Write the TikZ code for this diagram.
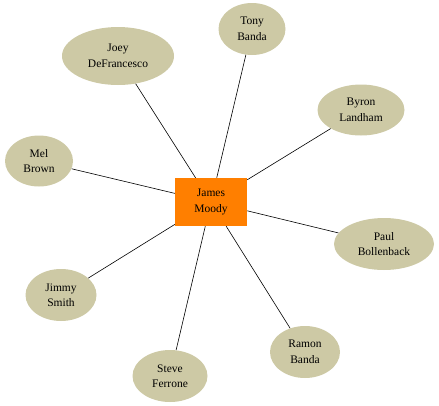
\documentclass[tikz,border=0pt]{standalone}
\usepackage{fontspec}
\setmainfont{Liberation Serif}
\usepackage{tikz}
\usetikzlibrary{shapes.geometric}
\definecolor{JMorange}{RGB}{255,127,0}
\definecolor{JMkhaki}{RGB}{205,201,165}
\tikzset{
  hub/.style={rectangle,fill=JMorange,minimum width=72pt,minimum height=48pt,
              inner sep=0pt,align=center,font=\fontsize{11.5}{15.5}\selectfont},
  player/.style={ellipse,fill=JMkhaki,inner sep=0pt,align=center,
                 font=\fontsize{11.5}{15.5}\selectfont},
  link/.style={line width=0.6pt,draw=black},
}
\begin{document}
\begin{tikzpicture}[x=1pt,y=-1pt]
    \useasboundingbox (0,0) rectangle (439,405);
    \node[hub] (jm) at (211,202) {James\\Moody};
    \node[player,minimum width=112pt,minimum height=58pt] (jd) at (118,56) {Joey\\DeFrancesco};
    \node[player,minimum width=67pt,minimum height=52pt] (tb) at (252,29) {Tony\\Banda};
    \node[player,minimum width=87pt,minimum height=51pt] (bl) at (361,110) {Byron\\Landham};
    \node[player,minimum width=68pt,minimum height=51pt] (mb) at (39,161) {Mel\\Brown};
    \node[player,minimum width=100pt,minimum height=52pt] (pb) at (384,244) {Paul\\Bollenback};
    \node[player,minimum width=71pt,minimum height=52pt] (js) at (61,295) {Jimmy\\Smith};
    \node[player,minimum width=70pt,minimum height=52pt] (rb) at (305,352) {Ramon\\Banda};
    \node[player,minimum width=75pt,minimum height=52pt] (sf) at (170,376) {Steve\\Ferrone};
    \draw[link] (jm) -- (jd);
    \draw[link] (jm) -- (tb);
    \draw[link] (jm) -- (bl);
    \draw[link] (jm) -- (mb);
    \draw[link] (jm) -- (pb);
    \draw[link] (jm) -- (js);
    \draw[link] (jm) -- (rb);
    \draw[link] (jm) -- (sf);
  \end{tikzpicture}
\end{document}
